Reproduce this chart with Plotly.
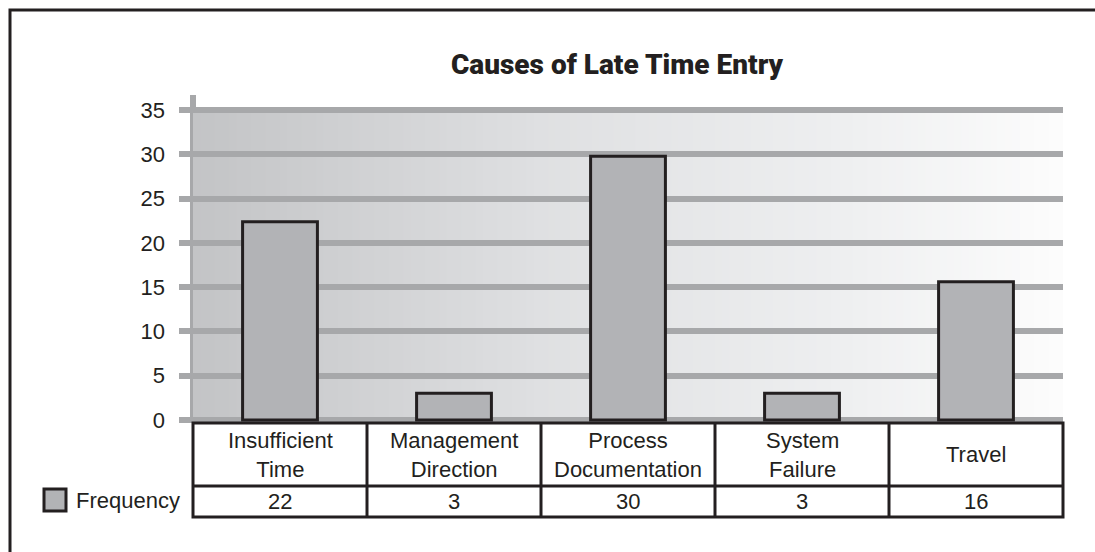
import plotly.graph_objects as go
from plotly.colors import sample_colorscale

# ---------------- data ----------------
categories = ["Insufficient Time", "Management Direction", "Process Documentation",
              "System Failure", "Travel"]
category_labels = ["Insufficient<br>Time", "Management<br>Direction", "Process<br>Documentation",
                   "System<br>Failure", "Travel"]
frequency = [22.4, 3, 29.8, 3, 15.6]
table_values = [22, 3, 30, 3, 16]
series_name = "Frequency"
y_ticks = [0, 5, 10, 15, 20, 25, 30, 35]
title_text = "Causes of Late Time Entry"

# ---------------- layout geometry ----------------
W, H = 1095, 552
L, R, T, B = 179, 32, 107, 129
PW, PH = W - L - R, H - T - B
band = 174.0
xr = [-0.5 - 14 / band, len(categories) - 0.5]
yr = [-0.35, 35.35]

INK = "#231f20"
GRID = "#a7a8aa"
BAR = "#b2b3b6"
FONT = "Liberation Sans, Arial, sans-serif"
FS = 22


def px2x(px):
    return (px - L) / PW


def px2y(py):
    return (H - B - py) / PH


def xval2paper(v):
    return (v - xr[0]) / (xr[1] - xr[0])


def yval2paper(v):
    return (v - yr[0]) / (yr[1] - yr[0])


fig = go.Figure()
fig.add_trace(go.Bar(
    x=categories, y=frequency, width=0.43, name=series_name,
    marker=dict(color=BAR, line=dict(color=INK, width=3)),
    showlegend=False, hoverinfo="x+y",
))

shapes = []
# gradient background (stripes)
N = 120
scale = [[0, "#c3c4c6"], [0.4, "#dfe0e2"], [0.75, "#eeeff0"], [1, "#fcfcfc"]]
cols = sample_colorscale(scale, [i / (N - 1) for i in range(N)])
x_start, x_end = -0.5, len(categories) - 0.5
w = (x_end - x_start) / N
for i, c in enumerate(cols):
    shapes.append(dict(type="rect", xref="x", yref="y",
                       x0=x_start + i * w, x1=x_start + (i + 1) * w + w * 0.3,
                       y0=0, y1=y_ticks[-1], fillcolor=c, line=dict(width=0),
                       layer="below"))
# vertical axis line
shapes.append(dict(type="line", xref="paper", yref="paper",
                   x0=xval2paper(-0.5), x1=xval2paper(-0.5),
                   y0=yval2paper(0), y1=px2y(95),
                   line=dict(color=GRID, width=6), layer="below"))

# data table
top_y, mid_y, bot_y = px2y(423), px2y(486), px2y(517)
left_x, right_x = xval2paper(-0.5), xval2paper(len(categories) - 0.5)
shapes.append(dict(type="rect", xref="paper", yref="paper",
                   x0=left_x, x1=right_x, y0=bot_y, y1=top_y,
                   fillcolor="white", line=dict(color=INK, width=3)))
shapes.append(dict(type="line", xref="paper", yref="paper",
                   x0=left_x, x1=right_x, y0=mid_y, y1=mid_y,
                   line=dict(color=INK, width=3)))
for i in range(1, len(categories)):
    xp = xval2paper(i - 0.5)
    shapes.append(dict(type="line", xref="paper", yref="paper",
                       x0=xp, x1=xp, y0=bot_y, y1=top_y,
                       line=dict(color=INK, width=3)))

# legend key square
shapes.append(dict(type="rect", xref="paper", yref="paper",
                   x0=px2x(44), x1=px2x(66), y0=px2y(511), y1=px2y(489),
                   fillcolor=BAR, line=dict(color=INK, width=3)))

# outer frame (left + top)
shapes.append(dict(type="path", xref="paper", yref="paper",
                   path=f"M {px2x(10)} {px2y(560)} L {px2x(10)} {px2y(10)} L {px2x(1100)} {px2y(10)}",
                   line=dict(color=INK, width=3)))

annotations = []
for i, lab in enumerate(category_labels):
    annotations.append(dict(x=categories[i], xref="x", y=(top_y + mid_y) / 2, yref="paper",
                            text=lab, showarrow=False, xanchor="center", yanchor="middle",
                            font=dict(family=FONT, size=FS, color=INK)))
for i, v in enumerate(table_values):
    annotations.append(dict(x=categories[i], xref="x", y=(mid_y + bot_y) / 2, yref="paper",
                            text=str(v), showarrow=False, xanchor="center", yanchor="middle",
                            font=dict(family=FONT, size=FS, color=INK)))
annotations.append(dict(x=px2x(74), xref="paper", y=px2y(500), yref="paper",
                        text=series_name, showarrow=False, xanchor="left", yanchor="middle",
                        font=dict(family=FONT, size=FS, color=INK)))

fig.update_layout(
    width=W, height=H,
    margin=dict(l=L, r=R, t=T, b=B, pad=0),
    paper_bgcolor="white", plot_bgcolor="rgba(0,0,0,0)",
    title=dict(text=title_text, x=px2x(617), xref="paper", xanchor="center",
               y=1 - 64 / H, yref="container", yanchor="middle",
               font=dict(family="Roboto, Liberation Sans, Arial, sans-serif", size=28,
                         color=INK, weight=900)),
    xaxis=dict(range=xr, showticklabels=False, showgrid=False, zeroline=False,
               showline=False, ticks="", fixedrange=True),
    yaxis=dict(range=yr, tickvals=y_ticks, showgrid=True, gridcolor=GRID, gridwidth=6,
               zeroline=False, showline=False, ticks="", ticklabelstandoff=13,
               tickfont=dict(family=FONT, size=FS, color=INK), fixedrange=True),
    shapes=shapes, annotations=annotations,
    bargap=0.57, showlegend=False,
)

fig.write_html("out.html", post_script="document.body.style.margin='0';",
               config={"displayModeBar": False})
